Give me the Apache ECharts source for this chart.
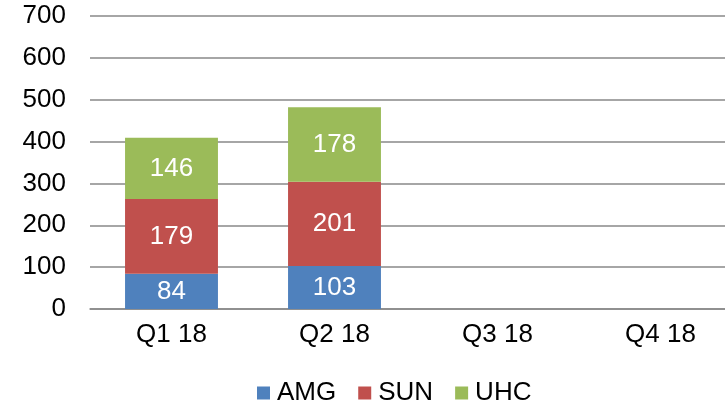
<!DOCTYPE html>
<html>
<head>
<meta charset="utf-8">
<script src="https://cdn.jsdelivr.net/npm/echarts@6/dist/echarts.min.js"></script>
<style>
  html, body { margin: 0; padding: 0; background: #fff; }
  #chart { width: 725px; height: 409px; }
</style>
</head>
<body>
<div id="chart"></div>
<script>
const quarters = ['Q1 18', 'Q2 18', 'Q3 18', 'Q4 18']
const amg = [84, 103, null, null]
const sun = [179, 201, null, null]
const uhc = [146, 178, null, null]
const yTicks = { min: 0, max: 700, interval: 100 }

const chart = echarts.init(document.getElementById('chart'))
const font = 'Liberation Sans, Arial, sans-serif'

const barSeries = function(name, data, color) {
  return {
    name: name,
    type: 'bar',
    stack: 'total',
    data: data,
    barWidth: '57%',
    itemStyle: { color: color },
    label: {
      show: true,
      position: 'inside',
      color: '#fff',
      fontSize: 26,
      fontFamily: font,
    },
  }
}

chart.setOption({
  animation: false,
  textStyle: { fontFamily: font },
  // plot area runs past the right edge of the canvas
  grid: { left: 90, top: 16, bottom: 100, width: 652, outerBoundsMode: 'none', containLabel: false },
  legend: {
    top: 380,
    left: 257,
    itemWidth: 13,
    itemHeight: 13,
    itemGap: 22,
    padding: 0,
    icon: 'rect',
    textStyle: { fontSize: 26, color: '#000', fontFamily: font, padding: [0, 0, 0, 2] },
    data: ['AMG', 'SUN', 'UHC'],
  },
  xAxis: {
    type: 'category',
    data: quarters,
    axisLine: { lineStyle: { color: '#898989', width: 1.5 } },
    axisTick: { show: false },
    axisLabel: { fontSize: 26, color: '#000', margin: 13, fontFamily: font },
  },
  yAxis: {
    type: 'value',
    min: yTicks.min,
    max: yTicks.max,
    interval: yTicks.interval,
    axisLine: { show: false },
    axisTick: { show: false },
    axisLabel: { fontSize: 26, color: '#000', margin: 24, fontFamily: font },
    splitLine: { lineStyle: { color: '#898989', width: 1.5 } },
  },
  series: [
    barSeries('AMG', amg, '#4F81BD'),
    barSeries('SUN', sun, '#C0504D'),
    barSeries('UHC', uhc, '#9BBB59'),
  ],
})
</script>
</body>
</html>
